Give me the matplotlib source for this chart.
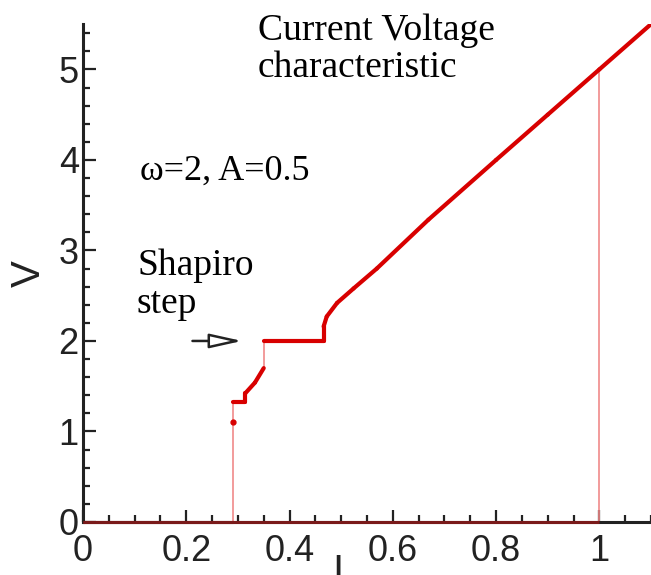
import numpy as np
import matplotlib
matplotlib.use("Agg")
import matplotlib.pyplot as plt
from matplotlib.ticker import MultipleLocator

# Increasing-current sweep (I, V)
I_up = [0.0, 0.290, 0.290, 0.290, 0.314, 0.314, 0.333, 0.350, 0.350, 0.466,
        0.466, 0.472, 0.492, 0.524, 0.569, 0.669, 0.80, 0.90, 1.00, 1.10]
V_up = [0.0, 0.0, 1.10, 1.33, 1.33, 1.42, 1.54, 1.70, 2.00, 2.00,
        2.16, 2.27, 2.42, 2.58, 2.80, 3.34, 4.00, 4.50, 5.00, 5.50]
# Decreasing-current return to the zero-voltage state
I_down = [1.00, 1.00, 0.0]
V_down = [5.00, 0.0, 0.0]

x_ticks = [0, 0.2, 0.4, 0.6, 0.8, 1]
x_tick_labels = ["0", "0.2", "0.4", "0.6", "0.8", "1"]
y_ticks = [0, 1, 2, 3, 4, 5]

RED = "#d80000"
PALE = "#f08a8a"
DARK = "#7a1a1a"

fig = plt.figure(figsize=(6.51, 5.75), dpi=100)
ax = fig.add_axes([0.1275, 0.0922, 0.8725, 0.8658])
ax.set_xlim(0, 1.1)
ax.set_ylim(0, 5.5)


def draw_sweep(I, V):
    for k in range(len(I) - 1):
        x0, x1 = I[k], I[k + 1]
        y0, y1 = V[k], V[k + 1]
        if y0 == 0 and y1 == 0:
            ax.plot([x0, x1], [y0, y1], color=DARK, lw=2.2, zorder=4,
                    clip_on=False, solid_capstyle="butt")
        elif x0 == x1 and abs(y1 - y0) > 0.2:
            ax.plot([x0, x1], [y0, y1], color=PALE, lw=1.2, zorder=2)
        else:
            ax.plot([x0, x1], [y0, y1], color=RED, lw=3.0, zorder=3,
                    solid_capstyle="round")


draw_sweep(I_up, V_up)
draw_sweep(I_down, V_down)
ax.plot([I_up[2]], [V_up[2]], "o", color=RED, ms=3.5, zorder=3)

# axes styling
for side in ("top", "right"):
    ax.spines[side].set_visible(False)
for side in ("left", "bottom"):
    ax.spines[side].set_linewidth(2.2)
    ax.spines[side].set_color("#222222")

ax.set_xticks(x_ticks)
ax.set_xticklabels(x_tick_labels)
ax.set_yticks(y_ticks)
ax.xaxis.set_minor_locator(MultipleLocator(0.05))
ax.yaxis.set_minor_locator(MultipleLocator(0.2))
ax.tick_params(which="both", direction="in", colors="#222222",
               labelsize=26, width=1.6)
ax.tick_params(which="major", length=9)
ax.tick_params(which="minor", length=5)
ax.tick_params(axis="y", pad=3)
ax.tick_params(axis="x", pad=9)
for lab in ax.get_xticklabels() + ax.get_yticklabels():
    lab.set_family("Liberation Sans")

ax.set_ylabel("V", fontsize=29, family="Liberation Sans", color="#222222")
ax.yaxis.set_label_coords(-0.062, 0.50)
ax.set_xlabel("I", fontsize=29, family="Liberation Sans", color="#222222",
              va="top")
ax.xaxis.set_label_coords(0.449, -0.062)

serif = "Liberation Serif"
fig.text(258 / 651, 1 - 77 / 575, "Current Voltage\ncharacteristic",
         fontsize=27, family=serif, va="baseline", ha="left",
         linespacing=1.1)
fig.text(140 / 651, 1 - 180 / 575, "\u03c9=2, A=0.5", fontsize=26,
         family=serif, va="baseline", ha="left")
fig.text(137 / 651, 1 - 313 / 575, "Shapiro\nstep", fontsize=27,
         family=serif, va="baseline", ha="left", linespacing=1.12)

ax.annotate("", xy=(0.308, 2.0), xytext=(0.212, 2.0),
            arrowprops=dict(arrowstyle="-|>,head_length=0.9,head_width=0.2",
                            mutation_scale=22, fc="white", ec="#222222",
                            lw=1.8, shrinkA=0, shrinkB=0))

fig.savefig("out.png", dpi=100)
